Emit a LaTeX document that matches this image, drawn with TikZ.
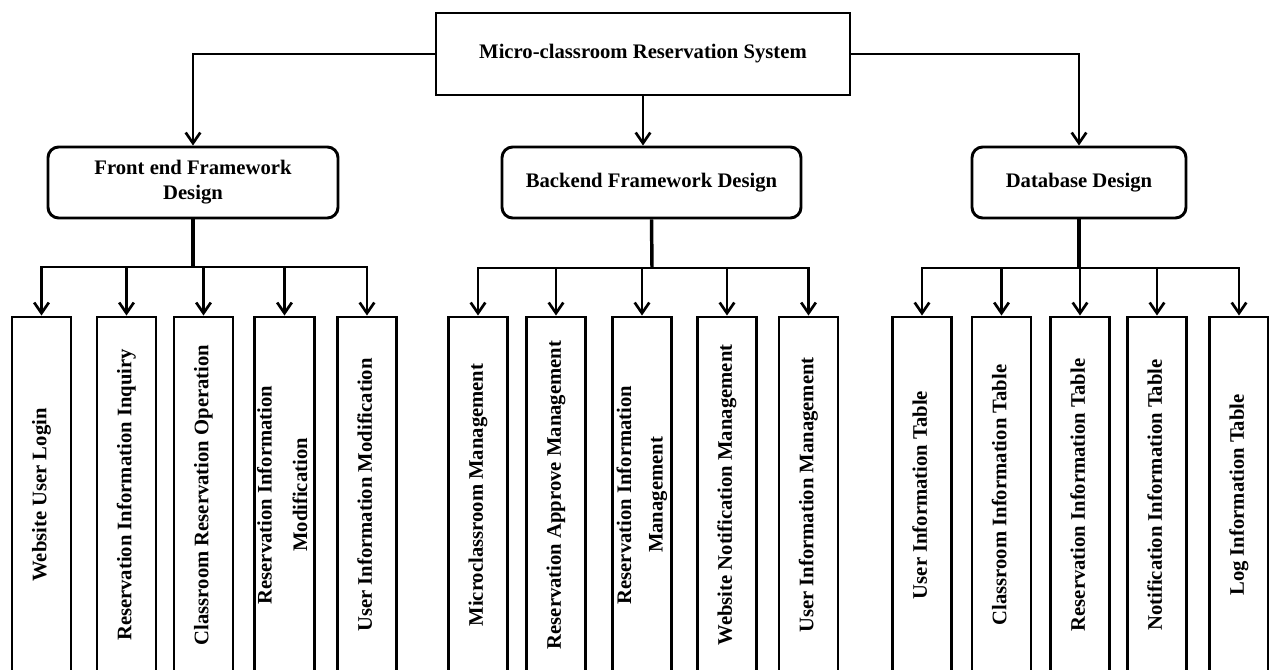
\documentclass[tikz,border=0pt]{standalone}
\usepackage{fontspec}
\setmainfont{Liberation Serif}
\usepackage{graphicx}
\usetikzlibrary{arrows.meta}
\newcommand{\vtext}[1]{\rotatebox{90}{\begin{tabular}{@{}c@{}}#1\end{tabular}}}
\begin{document}
\begin{tikzpicture}[x=0.75pt,y=-0.75pt,
  every node/.style={font=\fontsize{15.5}{18.6}\selectfont\bfseries, inner sep=0pt, align=center},
  topbox/.style={draw, line width=2.2pt, minimum width=310.5pt, minimum height=61.5pt},
  midbox/.style={draw, line width=2.2pt, rounded corners=8pt, minimum height=53.25pt},
  leafbox/.style={draw, line width=2.2pt, minimum width=44.25pt, minimum height=267pt},
  conn/.style={line width=2pt},
  arr/.style={conn, -{Straight Barb[length=8pt,width=11pt,line width=2pt]}}]
\useasboundingbox (0,0) rectangle (1269,670);

\node[topbox] (top) at (643,54) {Micro-classroom Reservation System};
\node[midbox, minimum width=217.5pt] (fe) at (193,182.5) {Front end Framework\\Design};
\node[midbox, minimum width=224.25pt] (be) at (651.5,182.5) {Backend Framework Design};
\node[midbox, minimum width=160.5pt] (db) at (1079,182.5) {Database Design};

% front end leaves
\node[leafbox] (f1) at (41.5,495) {\vtext{Website User Login}};
\node[leafbox] (f2) at (126.5,495) {\vtext{Reservation Information Inquiry}};
\node[leafbox] (f3) at (203.5,495) {\vtext{Classroom Reservation Operation}};
\node[leafbox] (f4) at (284.5,495) {\vtext{Reservation Information\\[8pt]Modification}};
\node[leafbox] (f5) at (367,495) {\vtext{User Information Modification}};

% backend leaves
\node[leafbox] (b1) at (478,495) {\vtext{Microclassroom Management}};
\node[leafbox] (b2) at (556,495) {\vtext{Reservation Approve Management}};
\node[leafbox] (b3) at (642,495) {\vtext{Reservation Information\\[5pt]Management}};
\node[leafbox] (b4) at (727,495) {\vtext{Website Notification Management}};
\node[leafbox] (b5) at (808.5,495) {\vtext{User Information Management}};

% database leaves
\node[leafbox] (d1) at (922,495) {\vtext{User Information Table}};
\node[leafbox] (d2) at (1001.5,495) {\vtext{Classroom Information Table}};
\node[leafbox] (d3) at (1080,495) {\vtext{Reservation Information Table}};
\node[leafbox] (d4) at (1157,495) {\vtext{Notification Information Table}};
\node[leafbox] (d5) at (1239,495) {\vtext{Log Information Table}};

% top level connectors
\draw[arr] (top.west) -| (fe.north);
\draw[arr] (top.south) -- (top.south |- be.north);
\draw[arr] (top.east) -| (db.north);

% buses
\coordinate (fb) at (193,267);
\coordinate (bb) at (652,268);
\coordinate (dbb) at (1079,268);

\draw[conn, line width=2.6pt] (fe.south) -- (fb);
\draw[arr] (fb) -| (f1.north);
\draw[arr] (fb) -| (f5.north);
\foreach \i in {2,3,4} \draw[arr] (f\i.north |- fb) -- (f\i.north);

\draw[conn, line width=2.6pt] (be.south) -- (bb);
\draw[arr] (bb) -| (b1.north);
\draw[arr] (bb) -| (b5.north);
\foreach \i in {2,3,4} \draw[arr] (b\i.north |- bb) -- (b\i.north);

\draw[conn, line width=2.6pt] (db.south) -- (dbb);
\draw[arr] (dbb) -| (d1.north);
\draw[arr] (dbb) -| (d5.north);
\foreach \i in {2,3,4} \draw[arr] (d\i.north |- dbb) -- (d\i.north);
\end{tikzpicture}
\end{document}
